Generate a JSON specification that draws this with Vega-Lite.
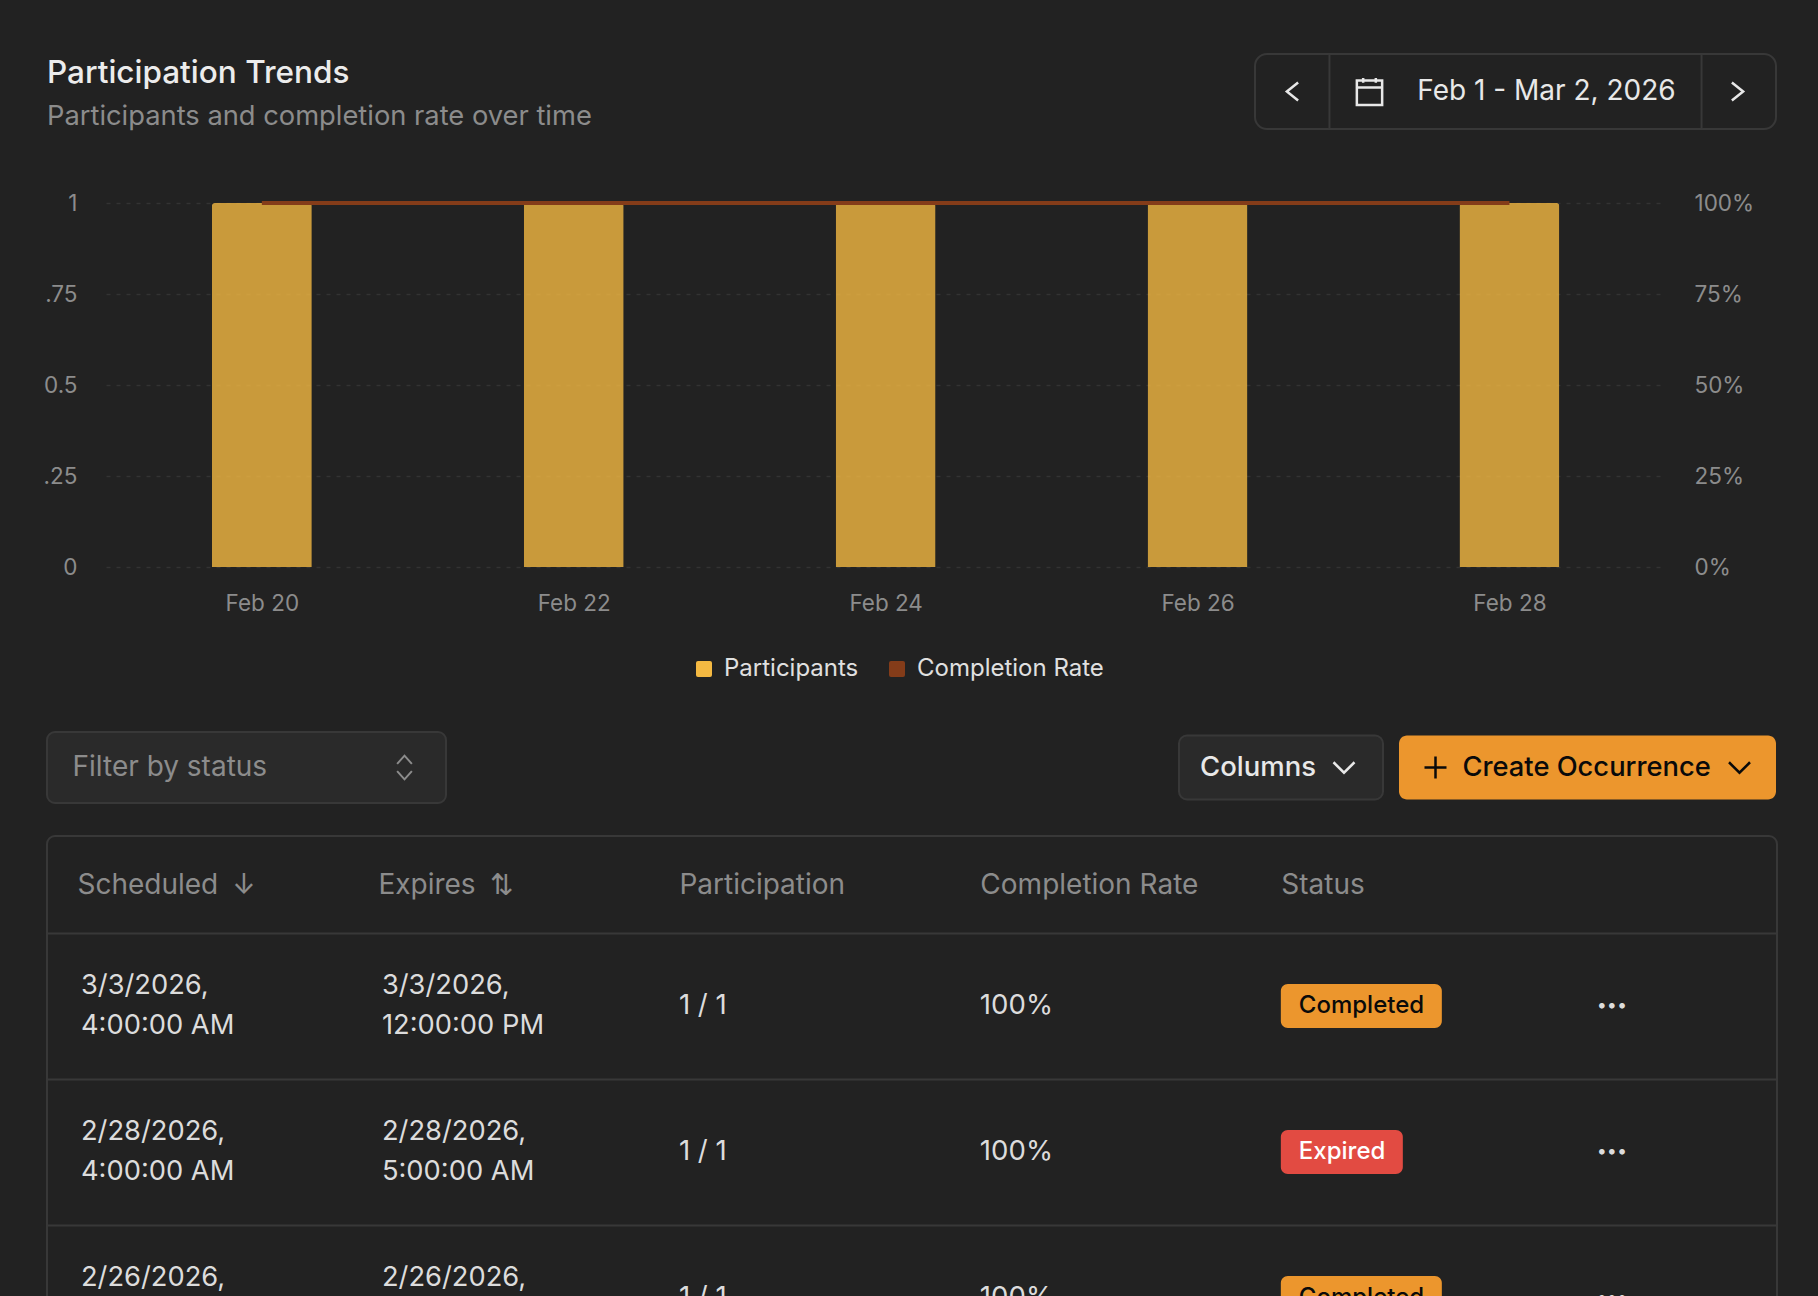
{
  "$schema": "https://vega.github.io/schema/vega-lite/v6.json",
  "background": "#222222",
  "padding": {"left": 43, "top": 52, "right": 44, "bottom": 0},
  "config": {
    "font": "Inter",
    "view": {"stroke": null},
    "axis": {"labelFont": "Inter", "titleFont": "Inter"},
    "legend": {"labelFont": "Inter"}
  },
  "datasets": {
    "trend": [
      {"day": "Feb 20", "participants": 1, "rate": 100},
      {"day": "Feb 22", "participants": 1, "rate": 100},
      {"day": "Feb 24", "participants": 1, "rate": 100},
      {"day": "Feb 26", "participants": 1, "rate": 100},
      {"day": "Feb 28", "participants": 1, "rate": 100}
    ],
    "cells": [
      {"occurrence": 1, "column": "Scheduled", "value": "3/3/2026,\n4:00:00 AM"},
      {"occurrence": 1, "column": "Expires", "value": "3/3/2026,\n12:00:00 PM"},
      {"occurrence": 1, "column": "Participation", "value": "1 / 1"},
      {"occurrence": 1, "column": "Completion Rate", "value": "100%"},
      {"occurrence": 2, "column": "Scheduled", "value": "2/28/2026,\n4:00:00 AM"},
      {"occurrence": 2, "column": "Expires", "value": "2/28/2026,\n5:00:00 AM"},
      {"occurrence": 2, "column": "Participation", "value": "1 / 1"},
      {"occurrence": 2, "column": "Completion Rate", "value": "100%"},
      {"occurrence": 3, "column": "Scheduled", "value": "2/26/2026,\n4:00:00 AM"},
      {"occurrence": 3, "column": "Expires", "value": "2/26/2026,\n5:00:00 AM"},
      {"occurrence": 3, "column": "Participation", "value": "1 / 1"},
      {"occurrence": 3, "column": "Completion Rate", "value": "100%"}
    ],
    "statuses": [
      {"occurrence": 1, "column": "Status", "status": "Completed", "more": "•••"},
      {"occurrence": 2, "column": "Status", "status": "Expired", "more": "•••"},
      {"occurrence": 3, "column": "Status", "status": "Completed", "more": "•••"}
    ]
  },
  "spacing": 0,
  "vconcat": [
    {
      "bounds": "flush",
      "spacing": 0,
      "hconcat": [
        {
          "width": 1208,
          "height": 138,
          "title": {
            "text": "Participation Trends",
            "subtitle": "Participants and completion rate over time",
            "anchor": "start",
            "frame": "group",
            "dy": 80,
            "fontSize": 31.5,
            "fontWeight": 500,
            "color": "#ececec",
            "subtitleFont": "Inter",
            "subtitleFontSize": 27.3,
            "subtitleColor": "#8c8c8c",
            "subtitlePadding": 13
          },
          "data": {"values": [{}]},
          "mark": {"type": "point", "opacity": 0}
        },
        {
          "width": 521,
          "height": 75,
          "view": {"stroke": "#383838", "strokeWidth": 2, "cornerRadius": 12},
          "data": {"values": [{"range": "Feb 1 - Mar 2, 2026"}]},
          "layer": [
            {
              "mark": {"type": "rule", "stroke": "#383838", "strokeWidth": 2},
              "encoding": {"x": {"datum": 1, "type": "quantitative", "scale": {"domain": [0, 7]}, "axis": null}}
            },
            {
              "mark": {"type": "rule", "stroke": "#383838", "strokeWidth": 2},
              "encoding": {"x": {"datum": 6, "type": "quantitative", "scale": {"domain": [0, 7]}, "axis": null}}
            },
            {
              "mark": {"type": "text", "align": "center", "fontSize": 28, "dx": 31, "color": "#e8e8e8"},
              "encoding": {"text": {"field": "range"}}
            },
            {
              "mark": {"type": "point", "shape": "M0.5,-0.8L-0.5,0L0.5,0.8", "filled": false, "opacity": 1, "size": 506, "stroke": "#e8e8e8", "strokeWidth": 2.5, "xOffset": -223},
              "encoding": {}
            },
            {
              "mark": {"type": "point", "shape": "M-0.5,-0.8L0.5,0L-0.5,0.8", "filled": false, "opacity": 1, "size": 506, "stroke": "#e8e8e8", "strokeWidth": 2.5, "xOffset": 222},
              "encoding": {}
            },
            {
              "mark": {"type": "point", "shape": "M-0.8,-0.7H0.8V0.86H-0.8ZM-0.8,-0.25H0.8M-0.4,-0.86V-0.55M0.4,-0.86V-0.55", "filled": false, "opacity": 1, "size": 1000, "stroke": "#e8e8e8", "strokeWidth": 2.5, "xOffset": -146},
              "encoding": {}
            }
          ]
        }
      ]
    },
    {
      "bounds": "flush",
      "spacing": 0,
      "hconcat": [
        {"width": 59, "height": 526, "data": {"values": [{}]}, "mark": {"type": "point", "opacity": 0}},
        {
          "width": 1555,
          "height": 364,
          "data": {"name": "trend"},
          "encoding": {
            "x": {
              "field": "day",
              "type": "nominal",
              "scale": {"type": "point", "domain": ["Feb 20", "Feb 22", "Feb 24", "Feb 26", "Feb 28"], "padding": 0.4928, "align": 0.507},
              "axis": {"title": null, "labelAngle": 0, "labelColor": "#8c8c8c", "labelFontSize": 22.5, "labelPadding": 25, "ticks": false, "domain": false}
            }
          },
          "layer": [
            {
              "mark": {"type": "bar", "width": 100, "opacity": 0.8, "cornerRadiusTopLeft": 3, "cornerRadiusTopRight": 3},
              "encoding": {
                "y": {
                  "field": "participants",
                  "type": "quantitative",
                  "scale": {"domain": [0, 1], "nice": false},
                  "axis": {
                    "title": null,
                    "values": [0, 0.25, 0.5, 0.75, 1],
                    "labelExpr": "datum.value == 0.25 ? '.25' : datum.value == 0.75 ? '.75' : datum.value == 0.5 ? '0.5' : datum.value == 1 ? '1' : '0'",
                    "labelColor": "#8c8c8c",
                    "labelFontSize": 22.5,
                    "labelPadding": 29,
                    "ticks": false,
                    "domain": false,
                    "grid": true,
                    "gridColor": "#333333",
                    "gridDash": [4, 6],
                    "gridWidth": 1.5
                  }
                },
                "color": {
                  "datum": "Participants",
                  "scale": {"domain": ["Participants", "Completion Rate"], "range": ["#f4b942", "#843c19"]},
                  "legend": {
                    "title": null,
                    "orient": "none",
                    "direction": "horizontal",
                    "columns": 2,
                    "legendX": 645,
                    "legendY": 603,
                    "symbolType": "M-0.75,-1H0.75Q1,-1 1,-0.75V0.75Q1,1 0.75,1H-0.75Q-1,1 -1,0.75V-0.75Q-1,-1 -0.75,-1Z",
                    "symbolSize": 256,
                    "symbolOpacity": 1,
                    "symbolStrokeWidth": 0,
                    "labelColor": "#e0e0e0",
                    "labelFontSize": 24,
                    "labelLimit": 400,
                    "labelOffset": 8,
                    "columnPadding": 26
                  }
                }
              }
            },
            {
              "mark": {"type": "line", "strokeWidth": 4},
              "encoding": {
                "y": {
                  "field": "rate",
                  "type": "quantitative",
                  "scale": {"domain": [0, 100], "nice": false},
                  "axis": {
                    "title": null,
                    "orient": "right",
                    "values": [0, 25, 50, 75, 100],
                    "labelExpr": "datum.value + '%'",
                    "labelColor": "#8c8c8c",
                    "labelFontSize": 22.5,
                    "labelPadding": 33,
                    "ticks": false,
                    "domain": false,
                    "grid": false
                  }
                },
                "color": {"datum": "Completion Rate"}
              }
            }
          ],
          "resolve": {"scale": {"y": "independent"}}
        }
      ]
    },
    {
      "bounds": "flush",
      "spacing": 0,
      "hconcat": [
        {
          "width": 399,
          "height": 71,
          "view": {"fill": "#2a2a2a", "stroke": "#383838", "strokeWidth": 2, "cornerRadius": 8},
          "data": {"values": [{"label": "Filter by status"}]},
          "layer": [
            {
              "mark": {"type": "text", "align": "left", "fontSize": 28, "dx": -174, "color": "#8c8c8c"},
              "encoding": {"text": {"field": "label"}}
            },
            {
              "mark": {"type": "point", "shape": "M-0.5,-0.25L0,-0.8L0.5,-0.25M-0.5,0.25L0,0.8L0.5,0.25", "filled": false, "opacity": 1, "size": 870, "stroke": "#8c8c8c", "strokeWidth": 2, "xOffset": 158},
              "encoding": {}
            }
          ]
        },
        {"width": 733, "height": 103, "data": {"values": [{}]}, "mark": {"type": "point", "opacity": 0}},
        {
          "width": 204,
          "height": 71,
          "data": {"values": [{"label": "Columns"}]},
          "layer": [
            {
              "mark": {"type": "rect", "fill": "#2a2a2a", "stroke": "#383838", "strokeWidth": 2, "cornerRadius": 8},
              "encoding": {
                "x": {"datum": 0, "type": "quantitative", "scale": {"domain": [0, 1]}, "axis": null},
                "x2": {"datum": 1},
                "y": {"datum": 0.05, "type": "quantitative", "scale": {"domain": [0, 1]}, "axis": null},
                "y2": {"datum": 0.95}
              }
            },
            {
              "mark": {"type": "text", "align": "left", "fontSize": 27.5, "fontWeight": 500, "dx": -81, "color": "#e8e8e8"},
              "encoding": {"text": {"field": "label"}}
            },
            {
              "mark": {"type": "point", "shape": "M-0.7,-0.35L0,0.35L0.7,-0.35", "filled": false, "opacity": 1, "size": 900, "stroke": "#e8e8e8", "strokeWidth": 2.5, "xOffset": 63},
              "encoding": {}
            }
          ]
        },
        {"width": 16, "height": 1, "data": {"values": [{}]}, "mark": {"type": "point", "opacity": 0}},
        {
          "width": 377,
          "height": 71,
          "data": {"values": [{"label": "Create Occurrence"}]},
          "layer": [
            {
              "mark": {"type": "rect", "fill": "#ec962d", "cornerRadius": 8},
              "encoding": {
                "x": {"datum": 0, "type": "quantitative", "scale": {"domain": [0, 1]}, "axis": null},
                "x2": {"datum": 1},
                "y": {"datum": 0.05, "type": "quantitative", "scale": {"domain": [0, 1]}, "axis": null},
                "y2": {"datum": 0.95}
              }
            },
            {
              "mark": {"type": "text", "align": "left", "fontSize": 27.3, "fontWeight": 500, "dx": -125, "color": "#0a0a0a"},
              "encoding": {"text": {"field": "label"}}
            },
            {
              "mark": {"type": "point", "shape": "M-1,0H1M0,-1V1", "filled": false, "opacity": 1, "size": 484, "stroke": "#0a0a0a", "strokeWidth": 2.5, "xOffset": -152},
              "encoding": {}
            },
            {
              "mark": {"type": "point", "shape": "M-0.7,-0.35L0,0.35L0.7,-0.35", "filled": false, "opacity": 1, "size": 900, "stroke": "#0a0a0a", "strokeWidth": 2.5, "xOffset": 152},
              "encoding": {}
            }
          ]
        }
      ]
    },
    {
      "width": 1730,
      "height": 470,
      "view": {"stroke": "#383838", "strokeWidth": 2, "cornerRadius": 8},
      "encoding": {
        "x": {
          "field": "column",
          "type": "nominal",
          "scale": {"type": "point", "padding": 0.374, "align": 0.133, "domain": ["Scheduled", "Expires", "Participation", "Completion Rate", "Status", "Actions"]},
          "axis": {
            "orient": "top",
            "offset": -49,
            "title": null,
            "labelAngle": 0,
            "labelAlign": "left",
            "labelBaseline": "middle",
            "labelPadding": 0,
            "labelBound": false,
            "labelOverlap": false,
            "labelLimit": 400,
            "labelColor": "#8c8c8c",
            "labelFontSize": 28,
            "labelExpr": "datum.label == 'Scheduled' ? 'Scheduled\u2002↓' : datum.label == 'Expires' ? 'Expires\u2002⇅' : datum.label == 'Actions' ? '' : datum.label",
            "ticks": false,
            "domain": false
          }
        },
        "y": {
          "field": "occurrence",
          "type": "nominal",
          "scale": {"type": "band", "domain": [1, 2, 3], "range": [97, 535], "paddingInner": 0, "paddingOuter": 0},
          "axis": {"title": null, "labels": false, "ticks": false, "domain": false, "grid": true, "gridColor": "#383838", "gridWidth": 2, "bandPosition": 0}
        }
      },
      "layer": [
        {
          "data": {"name": "cells"},
          "transform": [{"filter": "datum.column == 'Scheduled' || datum.column == 'Expires'"}],
          "mark": {"type": "text", "align": "left", "fontSize": 27.3, "lineHeight": 40, "lineBreak": "\n", "dx": 4, "dy": -20, "color": "#dcdcdc", "clip": true},
          "encoding": {"text": {"field": "value"}}
        },
        {
          "data": {"name": "cells"},
          "transform": [{"filter": "datum.column != 'Scheduled' && datum.column != 'Expires'"}],
          "mark": {"type": "text", "align": "left", "fontSize": 27.6, "color": "#dcdcdc", "clip": true},
          "encoding": {"text": {"field": "value"}}
        },
        {
          "data": {"name": "statuses"},
          "transform": [{"filter": "datum.status == 'Completed'"}],
          "mark": {"type": "rect", "width": 161, "height": 44, "xOffset": 80.5, "fill": "#ec962d", "cornerRadius": 7, "clip": true}
        },
        {
          "data": {"name": "statuses"},
          "transform": [{"filter": "datum.status == 'Expired'"}],
          "mark": {"type": "rect", "width": 122, "height": 44, "xOffset": 61, "fill": "#e24b42", "cornerRadius": 7, "clip": true}
        },
        {
          "data": {"name": "statuses"},
          "mark": {"type": "text", "align": "left", "fontSize": 24, "fontWeight": 500, "dx": 18, "clip": true},
          "encoding": {
            "text": {"field": "status"},
            "color": {"condition": {"test": "datum.status == 'Expired'", "value": "#ffffff"}, "value": "#0a0a0a"}
          }
        },
        {
          "data": {"name": "statuses"},
          "mark": {"type": "text", "align": "center", "fontSize": 18, "dx": 331, "color": "#dcdcdc", "clip": true},
          "encoding": {"text": {"field": "more"}}
        }
      ]
    }
  ]
}
